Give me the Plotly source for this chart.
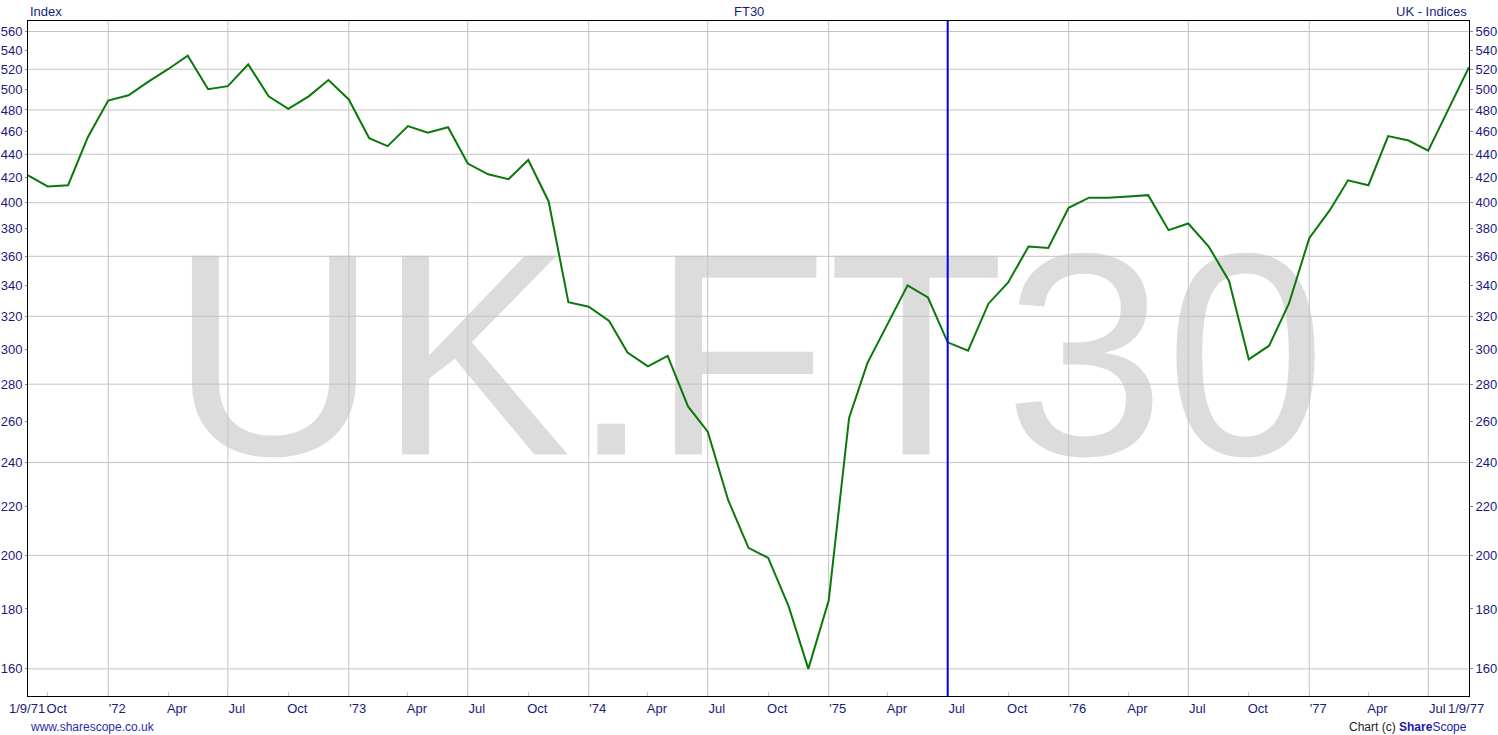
import math
import pandas as pd
import plotly.graph_objects as go

# ---------------- data ----------------
months = pd.date_range("1971-09-01", "1977-09-01", freq="MS")
values_1971 = [422, 413, 414, 455]
values_1972 = [489, 494, 507, 520, 534, 500, 503, 525, 493, 481, 493, 509]
values_1973 = [490, 454, 447, 465, 459, 464, 432, 423, 419, 435, 401, 329]
values_1974 = [326, 317, 298, 290, 296, 268, 255, 223, 203, 199, 181, 160]
values_1975 = [183, 262, 292, 315, 340, 332, 304, 299, 328, 342, 367, 366]
values_1976 = [396, 404, 404, 405, 406, 379, 384, 367, 343, 294, 302, 328]
values_1977 = [373, 394, 418, 414, 456, 452, 443, 481, 522]
ft30 = values_1971 + values_1972 + values_1973 + values_1974 + values_1975 + values_1976 + values_1977

x_tick_dates = ["1971-10-01", "1972-01-01", "1972-04-01", "1972-07-01", "1972-10-01",
                "1973-01-01", "1973-04-01", "1973-07-01", "1973-10-01",
                "1974-01-01", "1974-04-01", "1974-07-01", "1974-10-01",
                "1975-01-01", "1975-04-01", "1975-07-01", "1975-10-01",
                "1976-01-01", "1976-04-01", "1976-07-01", "1976-10-01",
                "1977-01-01", "1977-04-01", "1977-07-01"]
x_tick_text = ["Oct", "'72", "Apr", "Jul", "Oct", "'73", "Apr", "Jul", "Oct",
               "'74", "Apr", "Jul", "Oct", "'75", "Apr", "Jul", "Oct",
               "'76", "Apr", "Jul", "Oct", "'77", "Apr", "Jul"]
x_grid_dates = ["1972-01-01", "1972-07-01", "1973-01-01", "1973-07-01", "1974-01-01",
                "1974-07-01", "1975-01-01", "1975-07-01", "1976-01-01", "1976-07-01",
                "1977-01-01", "1977-07-01"]
start_label, end_label = "1/9/71", "1/9/77"
start_date, end_date = "1971-09-01", "1977-09-01"

y_tick_vals = [160, 180, 200, 220, 240, 260, 280, 300, 320, 340, 360, 380, 400,
               420, 440, 460, 480, 500, 520, 540, 560]
y_grid_vals = [160, 200, 240, 280, 320, 360, 400, 440, 480, 520, 560]
y_range_vals = [151.7, 571.7]

marker_date = "1975-07-01"

# ---------------- styles ----------------
FONT = "Liberation Sans, Arial, sans-serif"
FS = 13
TXT = "#1a1a7e"
GRID = "#c4c4c4"
yr = [math.log10(y_range_vals[0]), math.log10(y_range_vals[1])]

fig = go.Figure()
fig.add_trace(go.Scatter(x=months, y=ft30, mode="lines",
                         line=dict(color="#0a780a", width=2),
                         hoverinfo="skip", showlegend=False))
# invisible copy so the right-hand axis is rendered
fig.add_trace(go.Scatter(x=months, y=ft30, mode="lines", yaxis="y2",
                         line=dict(color="rgba(0,0,0,0)", width=0),
                         hoverinfo="skip", showlegend=False))

shapes = []
# watermark
shapes.append(dict(type="rect", xref="paper", yref="paper", x0=0, x1=0.999, y0=0.093, y1=1,
                   line=dict(width=0), fillcolor="rgba(0,0,0,0)", layer="below",
                   label=dict(text="UK.FT30", textposition="middle center",
                              font=dict(family=FONT, size=289, color="#dcdcdc"))))
for d in x_grid_dates:
    shapes.append(dict(type="line", xref="x", yref="paper", x0=d, x1=d, y0=0, y1=1,
                       line=dict(color=GRID, width=1), layer="below"))
for v in y_grid_vals:
    shapes.append(dict(type="line", xref="paper", yref="y", x0=0, x1=1, y0=v, y1=v,
                       line=dict(color=GRID, width=1), layer="below"))
# blue marker line
shapes.append(dict(type="line", xref="x", yref="paper", x0=marker_date, x1=marker_date,
                   y0=0, y1=1, line=dict(color="#0000ee", width=2), layer="above"))

annotations = [
    dict(text="Index", xref="paper", yref="paper", x=0, y=1, xanchor="left", yanchor="bottom",
         yshift=0, showarrow=False, font=dict(family=FONT, size=FS, color=TXT)),
    dict(text="FT30", xref="paper", yref="paper", x=0.5, y=1, xanchor="center", yanchor="bottom",
         yshift=0, showarrow=False, font=dict(family=FONT, size=FS, color=TXT)),
    dict(text="UK - Indices", xref="paper", yref="paper", x=1, y=1, xanchor="right", yanchor="bottom",
         yshift=0, showarrow=False, font=dict(family=FONT, size=FS, color=TXT)),
    dict(text="www.sharescope.co.uk", xref="paper", yref="paper", x=0, y=0, xanchor="left",
         yanchor="top", yshift=-22, showarrow=False, font=dict(family=FONT, size=FS - 1, color="#2b2ba8")),
    dict(text="Chart (c) <b><span style='color:#1a1aa8'>Share</span></b><span style='color:#1a1aa8'>Scope</span>",
         xref="paper", yref="paper", x=1, y=0, xanchor="right",
         yanchor="top", yshift=-22, showarrow=False, font=dict(family=FONT, size=FS - 1, color="#222222")),
    dict(text=start_label, xref="x", yref="paper", x=start_date, y=0, xanchor="center", yanchor="top",
         xshift=-1, yshift=-3, showarrow=False, font=dict(family=FONT, size=FS, color=TXT)),
    dict(text=end_label, xref="x", yref="paper", x=end_date, y=0, xanchor="center", yanchor="top",
         xshift=-3, yshift=-3, showarrow=False, font=dict(family=FONT, size=FS, color=TXT)),
]

fig.update_layout(
    width=1498, height=735,
    margin=dict(l=28, r=29, t=21, b=39, autoexpand=False),
    paper_bgcolor="white", plot_bgcolor="white",
    font=dict(family=FONT, size=FS, color=TXT),
    shapes=shapes, annotations=annotations,
    xaxis=dict(type="date", range=[start_date, end_date], showgrid=False, zeroline=False,
               automargin=False,
               tickmode="array", tickvals=x_tick_dates, ticktext=x_tick_text,
               ticks="inside", ticklen=4, tickcolor=GRID, ticklabelshift=9,
               showline=True, linecolor="black", linewidth=1, mirror=True,
               tickfont=dict(family=FONT, size=FS, color=TXT)),
    yaxis=dict(type="log", range=yr, showgrid=False, zeroline=False, automargin=False,
               tickmode="array", tickvals=y_tick_vals, ticktext=[str(v) for v in y_tick_vals],
               ticks="outside", ticklen=2, tickcolor="#888888",
               showline=True, linecolor="black", linewidth=1, mirror=True,
               tickfont=dict(family=FONT, size=FS, color=TXT)),
    yaxis2=dict(type="log", range=yr, overlaying="y", side="right", showgrid=False, zeroline=False,
                automargin=False,
                tickmode="array", tickvals=y_tick_vals, ticktext=[str(v) for v in y_tick_vals],
                ticks="outside", ticklen=3, tickcolor="#888888", showline=False,
                tickfont=dict(family=FONT, size=FS, color=TXT)),
)

fig.write_html("out.html", config={"displayModeBar": False},
               post_script="document.body.style.margin='0px';document.body.style.overflow='hidden';")
